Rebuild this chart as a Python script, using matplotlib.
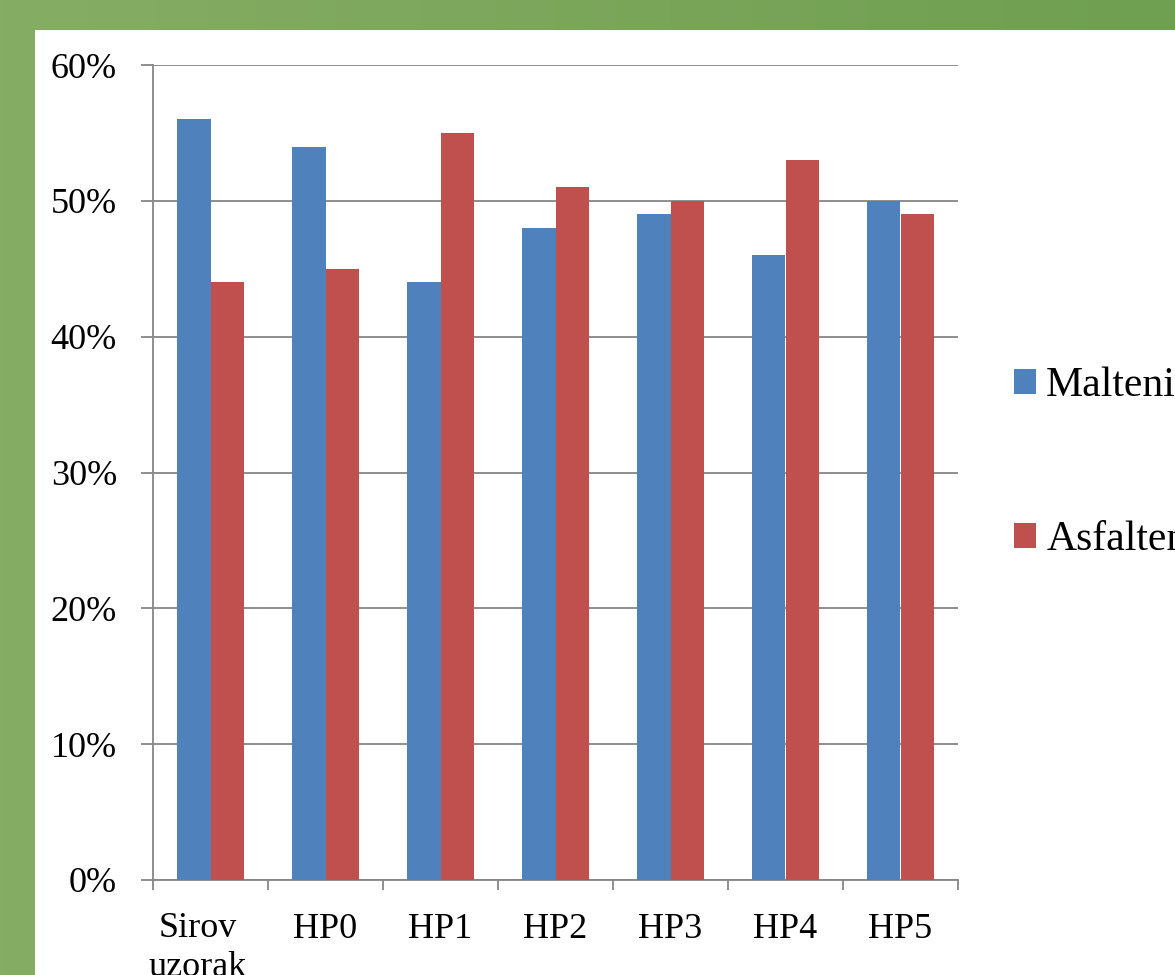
import matplotlib.pyplot as plt
import matplotlib.patches as mpatches
import matplotlib.transforms as mtransforms
import numpy as np

# Udio maltena i asfaltena po uzorku
uzorci = ['Sirov\nuzorak', 'HP0', 'HP1', 'HP2', 'HP3', 'HP4', 'HP5']
malteni = [56, 54, 44, 48, 49, 46, 50]
asfalteni = [44, 45, 55, 51, 50, 53, 49]
y_ticks = [0, 10, 20, 30, 40, 50, 60]

plt.rcParams['font.family'] = ['Liberation Serif', 'DejaVu Serif']

fig = plt.figure(figsize=(11.75, 9.75), dpi=100)
fig.patch.set_facecolor('#7fa75c')

# green frame with a soft gradient, white panel on top of it
grad = np.linspace(0, 1, 256).reshape(1, -1)
bg = fig.add_axes([0, 0, 1, 1], zorder=-2)
bg.imshow(grad, cmap=plt.matplotlib.colors.LinearSegmentedColormap.from_list(
    'g', ['#86ad64', '#6f9f51']), aspect='auto', extent=[0, 1, 0, 1])
bg.axis('off')
fig.patches.append(mpatches.Rectangle((35 / 1175, 0), 1, (975 - 30) / 975,
                                      transform=fig.transFigure,
                                      facecolor='white', edgecolor='none',
                                      zorder=-1))

ax = fig.add_axes([153 / 1175, (975 - 880) / 975, (958 - 153) / 1175, (880 - 65) / 975])
ax.set_facecolor('none')

x = np.arange(len(uzorci))
w = 0.287
ax.bar(x - w / 2, malteni, w, color='#4f81bd', label='Malteni', zorder=3)
ax.bar(x + w / 2, asfalteni, w, color='#c0504d', label='Asfalteni', zorder=3)

ax.set_xlim(-0.5, len(uzorci) - 0.5)
ax.set_ylim(0, 60)
ax.set_yticks(y_ticks)
ax.set_yticklabels([f'{v}%' for v in y_ticks])
ax.set_xticks(x)
# the wrapped first label is drawn by hand, a bit left of its category
ax.set_xticklabels([''] + uzorci[1:])
ax.set_xticks(np.arange(len(uzorci) + 1) - 0.5, minor=True)
tr = mtransforms.offset_copy(ax.get_xaxis_transform(), fig=fig,
                             x=-13, y=-32, units='dots')
ax.text(x[0], 0, uzorci[0], transform=tr, ha='center', va='top',
        fontsize=26, linespacing=1.25)

ax.grid(axis='y', color='#868686', linewidth=1.3, zorder=0)
for s in ['top', 'right']:
    ax.spines[s].set_visible(False)
for s in ['left', 'bottom']:
    ax.spines[s].set_color('#868686')
    ax.spines[s].set_linewidth(1.3)

ax.tick_params(axis='y', length=9, width=1.3, color='#868686', pad=17,
               labelsize=26)
ax.tick_params(axis='x', which='major', length=0, pad=24, labelsize=26)
ax.tick_params(axis='x', which='minor', length=7.5, width=1.3, color='#868686')

h, l = ax.get_legend_handles_labels()
fig.legend(h, l, loc='center left', bbox_to_anchor=(997 / 1175, 1 - 463 / 975),
           borderaxespad=0, frameon=False, fontsize=30, handlelength=0.53,
           handleheight=0.53, handletextpad=0.25, labelspacing=2.77)

fig.savefig('out.png', dpi=100, facecolor=fig.get_facecolor())
